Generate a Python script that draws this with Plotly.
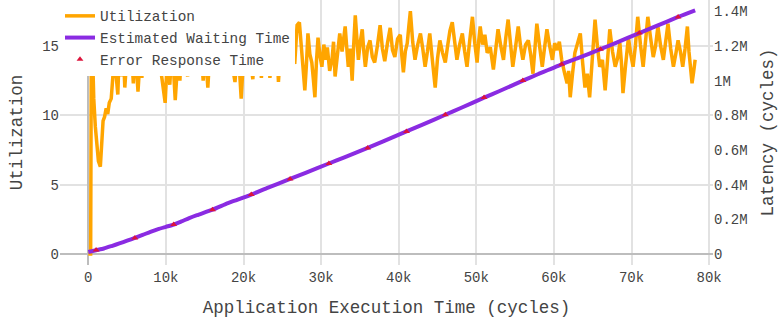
import plotly.graph_objects as go

# Utilization samples (x in cycles)
util_x = [0, 300, 400, 550, 700, 900, 1100, 1300, 1550, 1750, 1900, 2100, 2300, 2500, 2700, 2950,
          3150, 3350, 3550, 3800, 4000, 4200, 4450, 4700, 4950, 5150, 5400, 5600, 5800, 6050, 6400,
          6650, 6900, 7150, 7400, 7700, 8000, 8300, 8600, 8900, 9200, 9500, 9900, 10200, 10500,
          10800, 11200, 11500, 11800, 12100, 12500, 12800, 13100, 13400, 13700, 14000, 14400, 14800,
          15100, 15400, 15700, 16000, 16400, 16700, 17000, 17400, 17700, 18000, 18300, 18600, 18900,
          19200, 19500, 19700, 20000, 20300, 20600, 20900, 21200, 21500, 21800, 22000, 22300, 22600,
          22900, 23100, 23400, 23700, 24000, 24200, 24500, 24800, 25100, 25400, 25700, 26000, 26300,
          26600,
          26900, 27200, 27450, 27650, 27900, 28100, 28300, 28550, 28800, 29000, 29200, 29400, 29600,
          29850, 30100, 30350, 30600, 30800, 31100, 31400, 31600, 31800, 32100, 32400, 32700, 32900,
          33100, 33300, 33500, 33750, 34000, 34200, 34400, 34600, 34800, 35050, 35300, 35500, 35700,
          36000, 36300, 36600, 36900, 37250, 37600, 37900, 38200, 38550, 38900, 39200, 39500, 39850,
          40200, 40400, 40600, 40850, 41100, 41300, 41500, 41800, 42100, 42450, 42800, 43100, 43400,
          43700, 44000, 44350, 44700, 45000, 45300, 45650, 46000, 46300, 46600, 46900, 47200, 47500,
          47850, 48200, 48500, 48800, 49150, 49500, 49800, 50100, 50300, 50500, 50800, 51100, 51400,
          51800, 52200, 52500, 52800, 53150, 53500, 53800, 54100, 54400, 54700, 55050, 55400, 55700,
          56000, 56350, 56700, 57000, 57300, 57550, 57800, 58150, 58500, 58800, 59100, 59450, 59800,
          60100, 60400, 60700, 61000, 61350, 61700, 61900, 62100, 62400, 62700, 63050, 63400, 63700,
          64000, 64300, 64600, 64950, 65300, 65600, 65900, 66250, 66600, 66900, 67200, 67550, 67900,
          68200, 68500, 68700, 68900, 69250, 69600, 69900, 70200, 70500, 70800, 71150, 71500, 71800,
          72100, 72450, 72800, 73100, 73400, 73750, 74100, 74400, 74700, 75050, 75400, 75700, 76000,
          76300, 76600, 76900, 77200, 77400, 77600, 77800, 78000, 78200]
util_y = [0.0, 0.0, 17.6, 12.6, 11.2, 9.2, 7.6, 6.7, 6.3, 8.1, 9.6, 9.9, 10.5, 10.1, 10.9, 11.2,
          12.6, 14.2, 13.1, 11.5, 14.8, 12.8, 15.6, 12.0, 14.1, 13.2, 16.3, 13.6, 12.3, 14.9, 11.7,
          13.9, 12.7, 15.8, 13.6, 16.4, 14.0, 15.3, 13.4, 16.1, 13.8, 12.6, 10.9, 14.3, 12.2,
          15.1, 11.1, 13.7, 12.5, 15.9, 13.5, 12.8, 16.6, 14.2, 15.7, 13.4, 16.0, 12.5,
          14.6, 12.0, 14.9, 13.3, 15.8, 12.9, 14.7, 13.6, 16.8, 14.1, 15.5, 13.4, 12.4,
          14.6, 13.1, 11.2, 14.2, 13.5, 16.2, 13.9, 12.6, 15.4, 13.7, 16.5, 12.7, 14.8,
          13.6, 15.9, 12.7, 14.4, 13.3, 16.3, 12.4, 14.9, 13.8, 15.6, 13.4, 12.9, 14.6,
          13.7,
          16.5, 16.7, 15.0, 14.2, 11.8, 13.6, 15.9, 14.4, 13.8, 12.6, 11.3, 13.9, 15.6,
          14.3, 13.5, 15.1, 14.0, 14.9, 13.2, 14.0, 15.3, 12.8, 14.7, 15.9, 14.6, 15.8,
          16.4, 14.9, 13.5, 14.8, 12.5, 15.1, 17.2, 15.6, 14.0, 15.3, 16.2, 14.6, 13.5,
          14.9, 15.4, 14.2, 13.8, 15.0, 16.5, 14.8, 13.9, 15.2, 16.3, 14.7, 14.2, 15.5,
          15.8, 14.3, 13.1, 14.6, 15.2, 16.4, 17.5, 15.3, 14.0, 15.1, 15.9, 14.8, 13.5,
          14.6, 15.9, 13.9, 12.0, 14.1, 15.4, 14.5, 13.8, 15.0, 16.1, 16.7, 15.2, 14.0,
          15.1, 15.9, 14.6, 13.5, 15.4, 17.1, 15.2, 13.8, 15.3, 16.4, 15.1, 15.8, 14.5,
          14.9, 13.3, 14.6, 16.2, 15.0, 14.0, 15.6, 16.9, 15.2, 13.5, 14.9, 16.4, 15.0,
          14.0, 15.1, 15.4, 14.4, 13.0, 14.8, 16.6, 15.0, 13.5, 14.9, 16.2, 15.0, 14.0,
          15.2, 14.7, 15.3, 14.0, 13.1, 12.3, 13.2, 11.3, 13.0, 14.5, 15.2, 15.9, 13.8,
          12.0, 13.0, 11.3, 14.1, 16.9, 15.0, 13.5, 14.0, 11.8, 13.9, 16.2, 14.6, 13.5,
          14.1, 15.2, 13.8, 11.6, 13.7, 15.6, 14.4, 13.5, 15.0, 17.1, 15.1, 13.5, 15.3,
          17.1, 15.6, 14.2, 15.0, 16.4, 15.0, 14.0, 15.3, 16.6, 14.8, 13.5, 14.4, 15.4,
          14.6, 13.5, 14.8, 16.4, 14.6, 13.2, 12.3, 13.1, 14.0]

# Estimated waiting time (cycles of latency)
wait_x = [0, 1000, 2000, 3000, 4000, 5000, 6000, 7000, 8000, 9000, 10000, 11000, 12000, 13000,
          14000, 16000, 18000, 19000, 21000, 23000, 26000, 28000, 31000, 33000, 36000, 38000,
          41000, 43000, 46000, 48000, 51000, 53000, 56000, 58000, 61000, 63000, 66000, 68000,
          71000, 73000, 76000, 78200]
wait_y = [12000, 22000, 32000, 46000, 61000, 77000, 93000, 110000, 128000, 144000, 157000,
          170000, 188000, 207000, 224000, 256000, 294000, 310000, 343000, 380000, 433000, 468000,
          522000, 558000, 612000, 650000, 707000, 745000, 803000, 842000, 902000, 940000,
          1000000, 1038000, 1094000, 1128000, 1181000, 1218000, 1274000, 1311000, 1367000, 1405000]

# Error response time samples
err_x = [1000, 6000, 11000, 16000, 21000, 26000, 31000, 36000, 41000, 46000, 51000, 56000,
         61000, 66000, 71000, 76000]
err_y = [24000, 93000, 170000, 256000, 343000, 433000, 522000, 612000, 707000, 803000, 902000,
         1000000, 1094000, 1181000, 1274000, 1367000]

x_tick_vals = [0, 10000, 20000, 30000, 40000, 50000, 60000, 70000, 80000]
x_tick_text = ["0", "10k", "20k", "30k", "40k", "50k", "60k", "70k", "80k"]
util_tick_vals = [0, 5, 10, 15]
lat_tick_vals = [0, 200000, 400000, 600000, 800000, 1000000, 1200000, 1400000]
lat_tick_text = ["0", "0.2M", "0.4M", "0.6M", "0.8M", "1M", "1.2M", "1.4M"]

FONT = "Liberation Mono, Courier New, monospace"
GRID = "#e2e2e2"
ZERO = "#bdbdbd"

fig = go.Figure()
fig.add_trace(go.Scatter(
    x=util_x, y=util_y, name="Utilization", mode="lines",
    line=dict(color="#ffa500", width=3.5), yaxis="y"))
fig.add_trace(go.Scatter(
    x=wait_x, y=wait_y, name="Estimated Waiting Time", mode="lines",
    line=dict(color="#8a2be2", width=4, shape="spline", smoothing=0.6), yaxis="y2"))
fig.add_trace(go.Scatter(
    x=err_x, y=err_y, name="Error Response Time", mode="markers",
    marker=dict(symbol="triangle-up", color="#dc143c", size=6), yaxis="y2"))

fig.update_layout(
    width=778, height=320,
    margin=dict(l=60, r=65, t=0, b=55),
    paper_bgcolor="white", plot_bgcolor="white",
    font=dict(family=FONT, color="#444", size=14),
    showlegend=True,
    legend=dict(x=0, y=1, xanchor="left", yanchor="top", bgcolor="white",
                font=dict(family=FONT, size=14.4, color="#444"),
                tracegroupgap=0),
    xaxis=dict(
        range=[-3650, 80500], tickvals=x_tick_vals, ticktext=x_tick_text,
        showgrid=True, gridcolor=GRID, gridwidth=1.5,
        zeroline=True, zerolinecolor=ZERO, zerolinewidth=2,
        showline=False, ticks="", ticklabelstandoff=2,
        tickfont=dict(family=FONT, size=14),
        title=dict(text="Application Execution Time (cycles)",
                   font=dict(family=FONT, size=17.5))),
    yaxis=dict(
        range=[-0.79, 18.31], tickvals=util_tick_vals,
        showgrid=True, gridcolor=GRID, gridwidth=1.5,
        zeroline=True, zerolinecolor=ZERO, zerolinewidth=2,
        showline=False, ticks="",
        tickfont=dict(family=FONT, size=14),
        title=dict(text="Utilization", font=dict(family=FONT, size=17.5))),
    yaxis2=dict(
        overlaying="y", side="right",
        range=[-63200, 1464800], tickvals=lat_tick_vals, ticktext=lat_tick_text,
        showgrid=False, zeroline=False, showline=False, ticks="",
        tickfont=dict(family=FONT, size=14),
        title=dict(text="Latency (cycles)", font=dict(family=FONT, size=17.5))),
)

fig.write_html("out.html")
